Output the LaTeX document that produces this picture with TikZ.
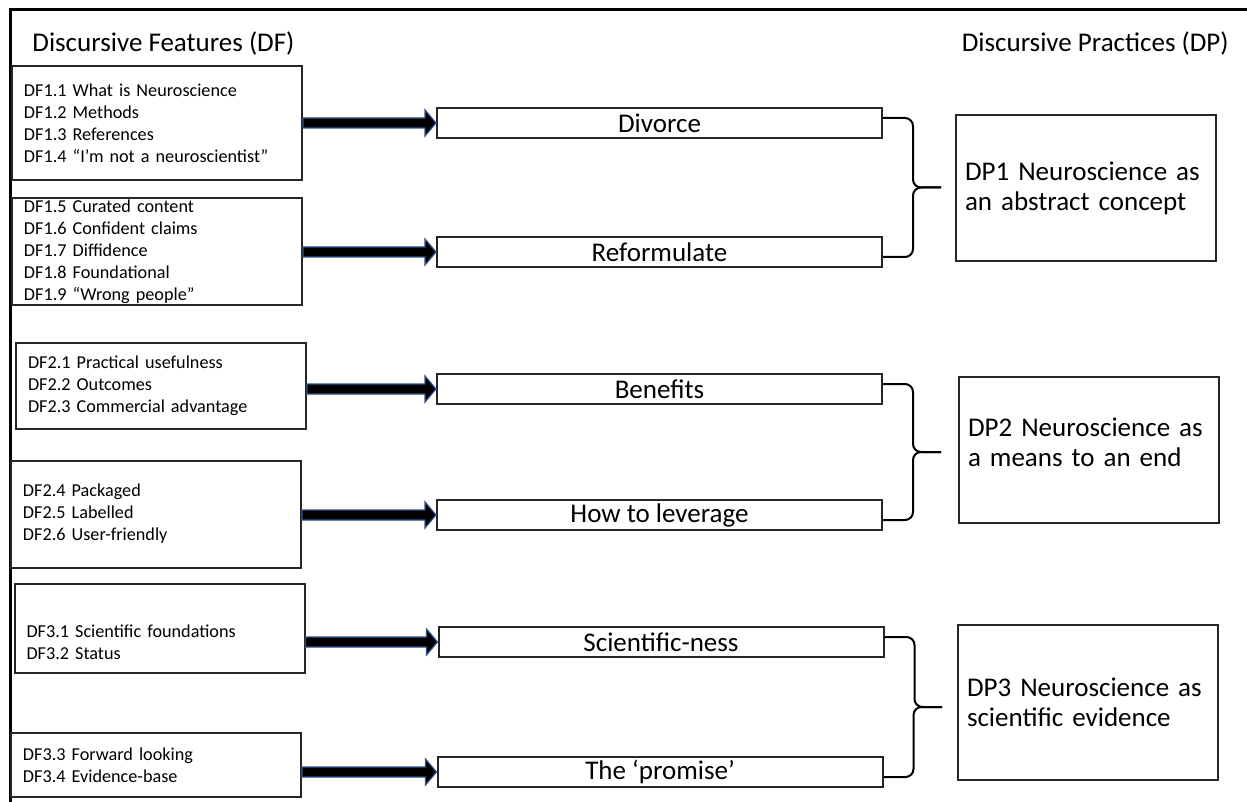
\documentclass[tikz,border=0pt]{standalone}
\usepackage{fontspec}
\setmainfont{Carlito}
\usetikzlibrary{calc}
\definecolor{arrowblue}{HTML}{2F528F}
\begin{document}
\begin{tikzpicture}[x=0.5pt,y=-0.5pt,
  df/.style={draw=black!85,line width=1pt,rectangle,text width=133pt,inner xsep=6pt,inner ysep=0pt,align=left,minimum height=#1,font=\fontsize{9.1}{11}\selectfont},
  mid/.style={draw=black!85,line width=1pt,rectangle,minimum width=222.5pt,minimum height=15pt,inner sep=0pt,font=\fontsize{13.5}{15}\selectfont},
  dp/.style={draw=black!85,line width=1pt,rectangle,text width=121pt,inner xsep=4.5pt,minimum height=#1,align=left,font=\fontsize{13.5}{15}\selectfont},
  brc/.style={line width=1pt,rounded corners=4pt},
  ttl/.style={inner sep=0pt,font=\fontsize{13.5}{15}\selectfont}]
\useasboundingbox (0,0) rectangle (1247,802);
\draw[line width=1.5pt] (10,802) -- (10,10) -- (1247,10);
\node[ttl,anchor=west] (tdf) at (32,44) {Discursive Features (DF)};
\node[ttl,anchor=east] (tdp) at (1229,44) {Discursive Practices (DP)};
% features
\node[df=57pt] (f1) at (157,123) {DF1.1 What is Neuroscience\\DF1.2 Methods\\DF1.3 References\\DF1.4 “I’m not a neuroscientist”};
\node[df=53.5pt] (f2) at (157,251.5) {DF1.5 Curated content\\DF1.6 Confident claims\\DF1.7 Diffidence\\DF1.8 Foundational\\DF1.9 “Wrong people”};
\node[df=43pt] (f3) at (161,386) {DF2.1 Practical usefulness\\DF2.2 Outcomes\\DF2.3 Commercial advantage};
\node[df=53.5pt] (f4) at (156,514) {DF2.4 Packaged\\DF2.5 Labelled\\DF2.6 User-friendly};
\node[df=44.5pt] (f5) at (159.5,628) {\rule{0pt}{20.5pt}DF3.1 Scientific foundations\\DF3.2 Status};
\node[df=32pt] (f6) at (156,765) {DF3.3 Forward looking\\DF3.4 Evidence-base};
% middle
\node[mid] (div) at (659.5,123) {Divorce};
\node[mid] (ref) at (659.5,252) {Reformulate};
\node[mid] (ben) at (659.5,389) {Benefits};
\node[mid] (lev) at (659.5,515) {How to leverage};
\node[mid] (sci) at (661,642) {Scientific-ness};
\node[mid] (pro) at (660,772) {The ‘promise’};
% practices
\node[dp=73pt] (p1) at (1086,188) {DP1 Neuroscience as\\an abstract concept};
\node[dp=73pt] (p2) at (1089,450) {DP2 Neuroscience as\\a means to an end\vspace{8pt}};
\node[dp=77.5pt] (p3) at (1088,702.5) {DP3 Neuroscience as\\scientific evidence};
\foreach \a/\b in {f1/div,f2/ref,f3/ben,f4/lev,f5/sci,f6/pro}
  \filldraw[fill=black,draw=arrowblue,line width=0.6pt]
    let \p1=(\b.west -| \a.east), \p2=(\b.west) in
    (\x1,\y1+2.5pt) -- (\x2-5.5pt,\y1+2.5pt) -- (\x2-5.5pt,\y1+6.5pt) -- (\p2)
    -- (\x2-5.5pt,\y1-6.5pt) -- (\x2-5.5pt,\y1-2.5pt) -- (\x1,\y1-2.5pt) -- cycle;
\foreach \u/\l/\i in {div/ref/1,ben/lev/2,sci/pro/3}{
  \coordinate (t\i) at ($(\u.east)!.5!(\l.east)+(29pt,0)$);
  \draw[brc] ([yshift=2.5pt]\u.east) -- ++(15pt,0) |- (t\i);
  \draw[brc] ([yshift=-2.5pt]\l.east) -- ++(15pt,0) |- (t\i);
}
\end{tikzpicture}
\end{document}
